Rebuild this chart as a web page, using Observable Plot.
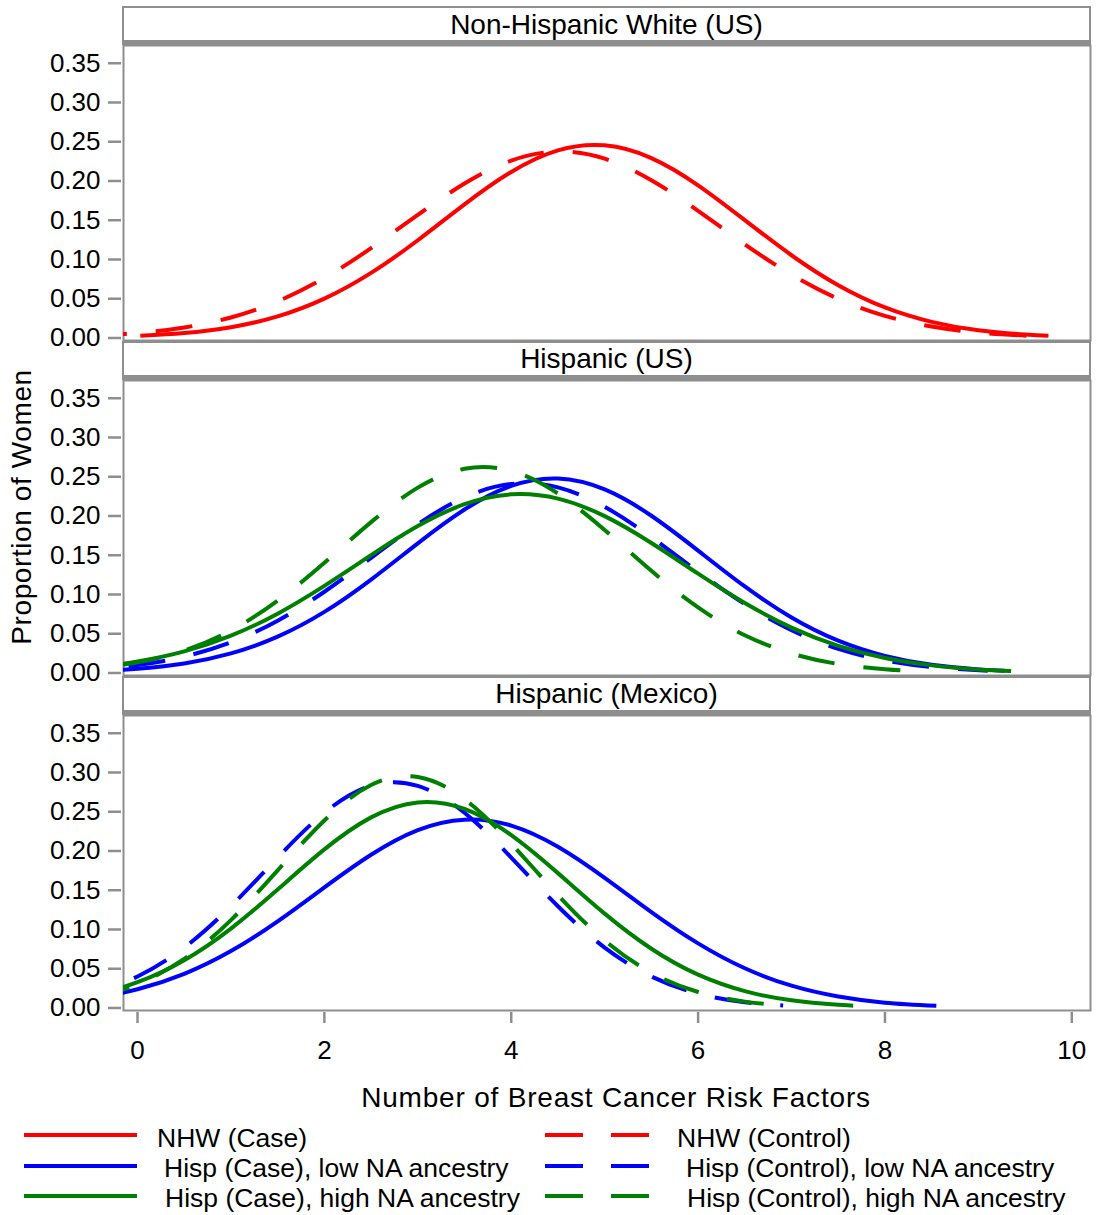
<!DOCTYPE html>
<html><head><meta charset="utf-8">
<script src="https://cdn.jsdelivr.net/npm/d3@7"></script>
<script src="https://cdn.jsdelivr.net/npm/@observablehq/plot@0.6"></script>
<style>html,body{margin:0;padding:0;background:#fff;} svg{display:block;}</style>
</head><body><div id="chart"></div>
<script>
// ---------- data ----------
const panels = ["Non-Hispanic White (US)", "Hispanic (US)", "Hispanic (Mexico)"];
const seriesNames = [
  "NHW (Case)", "NHW (Control)",
  "Hisp (Case), low NA ancestry", "Hisp (Control), low NA ancestry",
  "Hisp (Case), high NA ancestry", "Hisp (Control), high NA ancestry"
];
const xTicks = [0, 2, 4, 6, 8, 10];
const yTicks = [0, 0.05, 0.10, 0.15, 0.20, 0.25, 0.30, 0.35];

// Panel 1: Non-Hispanic White (US)
const nhwCaseX = [0.03, 0.5, 1, 1.5, 2, 2.5, 3, 3.5, 4, 4.5, 5, 5.5, 6, 6.5, 7, 7.5, 8, 8.5, 9, 9.5, 9.75];
const nhwCaseY = [0.0027, 0.0063, 0.0138, 0.0275, 0.0501, 0.0829, 0.1245, 0.1702, 0.2115, 0.2390, 0.2454, 0.2292, 0.1945, 0.1501, 0.1054, 0.0672, 0.0389, 0.0205, 0.0098, 0.0043, 0.0027];
const nhwCtrlX = [-0.51, 0, 0.5, 1, 1.5, 2, 2.5, 3, 3.5, 4, 4.5, 5, 5.5, 6, 6.5, 7, 7.5, 8, 8.5, 9, 9.57];
const nhwCtrlY = [0.0026, 0.0063, 0.0134, 0.0261, 0.0467, 0.0764, 0.1145, 0.1568, 0.1968, 0.2260, 0.2375, 0.2284, 0.2010, 0.1620, 0.1194, 0.0806, 0.0498, 0.0281, 0.0146, 0.0069, 0.0026];

// Panel 2: Hispanic (US)
const usCaseLowX = [-0.38, 0, 0.5, 1, 1.5, 2, 2.5, 3, 3.5, 4, 4.5, 5, 5.5, 6, 6.5, 7, 7.5, 8, 8.5, 9, 9.28];
const usCaseLowY = [0.0028, 0.0054, 0.0122, 0.0250, 0.0463, 0.0778, 0.1190, 0.1652, 0.2082, 0.2383, 0.2477, 0.2338, 0.2003, 0.1559, 0.1102, 0.0707, 0.0412, 0.0218, 0.0105, 0.0046, 0.0028];
const usCtrlLowX = [-0.8, -0.5, 0, 0.5, 1, 1.5, 2, 2.5, 3, 3.5, 4, 4.5, 5, 5.5, 6, 6.5, 7, 7.5, 8, 8.5, 9.1];
const usCtrlLowY = [0.0027, 0.0046, 0.0102, 0.0209, 0.0391, 0.0666, 0.1035, 0.1467, 0.1896, 0.2237, 0.2408, 0.2364, 0.2117, 0.1730, 0.1290, 0.0877, 0.0544, 0.0308, 0.0159, 0.0075, 0.0027];
const usCaseHighX = [-1.15, -0.5, 0, 0.5, 1, 1.5, 2, 2.5, 3, 3.5, 4, 4.5, 5, 5.5, 6, 6.5, 7, 7.5, 8, 8.5, 9, 9.35];
const usCaseHighY = [0.0025, 0.0072, 0.0146, 0.0275, 0.0475, 0.0756, 0.1110, 0.1501, 0.1871, 0.2150, 0.2276, 0.2221, 0.1998, 0.1656, 0.1265, 0.0891, 0.0578, 0.0345, 0.0190, 0.0097, 0.0045, 0.0025];
const usCtrlHighX = [-0.86, -0.5, 0, 0.5, 1, 1.5, 2, 2.5, 3, 3.5, 4, 4.5, 5, 5.5, 6, 6.5, 7, 7.5, 8, 8.26];
const usCtrlHighY = [0.0029, 0.0058, 0.0136, 0.0286, 0.0542, 0.0921, 0.1405, 0.1922, 0.2361, 0.2602, 0.2574, 0.2286, 0.1821, 0.1302, 0.0836, 0.0481, 0.0249, 0.0115, 0.0048, 0.0029];

// Panel 3: Hispanic (Mexico)
const mxCaseLowX = [-1.41, -1, -0.5, 0, 0.5, 1, 1.5, 2, 2.5, 3, 3.5, 4, 4.5, 5, 5.5, 6, 6.5, 7, 7.5, 8, 8.55];
const mxCaseLowY = [0.0027, 0.0054, 0.0119, 0.0238, 0.0435, 0.0725, 0.1104, 0.1536, 0.1952, 0.2266, 0.2399, 0.2324, 0.2054, 0.1658, 0.1222, 0.0823, 0.0506, 0.0284, 0.0146, 0.0068, 0.0027];
const mxCtrlLowX = [-1.41, -1, -0.5, 0, 0.5, 1, 1.5, 2, 2.5, 3, 3.5, 4, 4.5, 5, 5.5, 6, 6.5, 6.91];
const mxCtrlLowY = [0.0032, 0.0074, 0.0183, 0.0401, 0.0769, 0.1296, 0.1916, 0.2487, 0.2833, 0.2830, 0.2487, 0.1916, 0.1296, 0.0769, 0.0401, 0.0183, 0.0074, 0.0032];
const mxCaseHighX = [-1.46, -1, -0.5, 0, 0.5, 1, 1.5, 2, 2.5, 3, 3.5, 4, 4.5, 5, 5.5, 6, 6.5, 7, 7.5, 7.66];
const mxCaseHighY = [0.0029, 0.0069, 0.0159, 0.0328, 0.0608, 0.1011, 0.1509, 0.2020, 0.2428, 0.2619, 0.2536, 0.2203, 0.1718, 0.1202, 0.0755, 0.0425, 0.0215, 0.0098, 0.0040, 0.0029];
const mxCtrlHighX = [-1.17, -1, -0.5, 0, 0.5, 1, 1.5, 2, 2.5, 3, 3.5, 4, 4.5, 5, 5.5, 6, 6.5, 6.93];
const mxCtrlHighY = [0.0033, 0.0048, 0.0129, 0.0304, 0.0625, 0.1120, 0.1753, 0.2389, 0.2840, 0.2943, 0.2660, 0.2095, 0.1438, 0.0861, 0.0449, 0.0204, 0.0081, 0.0033];

// ---------- assembly ----------
const curves = [
  [panels[0], seriesNames[0], nhwCaseX, nhwCaseY],
  [panels[0], seriesNames[1], nhwCtrlX, nhwCtrlY],
  [panels[1], seriesNames[2], usCaseLowX, usCaseLowY],
  [panels[1], seriesNames[3], usCtrlLowX, usCtrlLowY],
  [panels[1], seriesNames[4], usCaseHighX, usCaseHighY],
  [panels[1], seriesNames[5], usCtrlHighX, usCtrlHighY],
  [panels[2], seriesNames[2], mxCaseLowX, mxCaseLowY],
  [panels[2], seriesNames[3], mxCtrlLowX, mxCtrlLowY],
  [panels[2], seriesNames[4], mxCaseHighX, mxCaseHighY],
  [panels[2], seriesNames[5], mxCtrlHighX, mxCtrlHighY]
];

const RED = "#ff0000", BLUE = "#0000ff", GREEN = "#008000", GRAY = "#8e8e8e";
const DASH = "37,29";
const seriesStyle = {
  [seriesNames[0]]: {stroke: RED, dash: null},
  [seriesNames[1]]: {stroke: RED, dash: DASH},
  [seriesNames[2]]: {stroke: BLUE, dash: null},
  [seriesNames[3]]: {stroke: BLUE, dash: DASH},
  [seriesNames[4]]: {stroke: GREEN, dash: null},
  [seriesNames[5]]: {stroke: GREEN, dash: DASH}
};
const FONT = "'Liberation Sans', Arial, sans-serif";

const lineMarks = curves.map(([panel, series, xs, ys]) => {
  const data = d3.zip(xs, ys).map(([x, y]) => ({x, y, panel, series}));
  const st = seriesStyle[series];
  return Plot.line(data, {
    x: "x", y: "y", fy: "panel",
    stroke: st.stroke, strokeWidth: 4,
    strokeDasharray: st.dash ?? undefined,
    strokeLinecap: "butt",
    curve: "natural", clip: true
  });
});

const W = 1098, H = 1215, ML = 123, MR = 8, MT = 45, MB = 205;

const chart = Plot.plot({
  width: W, height: H,
  marginLeft: ML, marginRight: MR, marginTop: MT, marginBottom: MB,
  style: {fontFamily: FONT, fontSize: "26px", background: "#fff", color: "#000"},
  x: {domain: [-0.15, 10.2]},
  y: {domain: [-0.0032, 0.3726]},
  fy: {domain: panels, paddingInner: 0.1194, paddingOuter: 0, axis: null, round: false},
  marks: [
    Plot.frame({stroke: GRAY, strokeWidth: 2}),
    Plot.axisY({ticks: yTicks, tickFormat: d3.format(".2f"), tickSize: 13, tickPadding: 8, dx: -2,
      stroke: GRAY, strokeWidth: 2.5, fill: "#000", fontSize: 26, label: null}),
    Plot.axisX({ticks: xTicks, tickFormat: d3.format("d"), tickSize: 11, tickPadding: 17, dy: 2,
      stroke: GRAY, strokeWidth: 2.5, fill: "#000", fontSize: 26, label: null}),
    ...lineMarks
  ]
});

document.getElementById("chart").appendChild(chart);

// ---------- strips, titles, legend ----------
const svg = d3.select(chart);
let fyApply;
try { const s = chart.scale("fy"); fyApply = s && s.apply ? s.apply : null; } catch (e) { fyApply = null; }
const step = (H - MT - MB) / (3 - 0.1194);
const panelTop = (p, i) => fyApply ? fyApply(p) : MT + i * step;
const xL = ML, xR = W - MR;

const stripG = svg.append("g");
panels.forEach((p, i) => {
  const top = panelTop(p, i);
  stripG.append("rect").attr("x", xL).attr("y", top - 38).attr("width", xR - xL).attr("height", 37)
    .attr("fill", "#fff").attr("stroke", GRAY).attr("stroke-width", 2);
  stripG.append("rect").attr("x", xL - 1).attr("y", top - 5).attr("width", xR - xL + 2).attr("height", 4)
    .attr("fill", GRAY);
  stripG.append("text").attr("x", (xL + xR) / 2).attr("y", top - 11.5)
    .attr("text-anchor", "middle").attr("font-family", FONT).attr("font-size", 28).attr("fill", "#000")
    .text(p);
});

// axis titles
svg.append("text").attr("x", 616).attr("y", 1107).attr("text-anchor", "middle")
  .attr("font-family", FONT).attr("font-size", 28).attr("letter-spacing", "0.8px").attr("fill", "#000")
  .text("Number of Breast Cancer Risk Factors");
svg.append("text").attr("transform", "translate(31,507) rotate(-90)").attr("text-anchor", "middle")
  .attr("font-family", FONT).attr("font-size", 28).attr("letter-spacing", "0.6px").attr("fill", "#000")
  .text("Proportion of Women");

// legend
const legendRows = [1135, 1166, 1196];
const legendBase = [1147, 1177, 1207];
const leftTextX = [157, 164, 165];
const rightTextX = [677, 686, 687];
const legG = svg.append("g").attr("text-anchor", "start");
[0, 1, 2].forEach(r => {
  const solid = seriesNames[r * 2], dashed = seriesNames[r * 2 + 1];
  legG.append("line").attr("x1", 24).attr("x2", 137).attr("y1", legendRows[r]).attr("y2", legendRows[r])
    .attr("stroke", seriesStyle[solid].stroke).attr("stroke-width", 4);
  legG.append("text").attr("x", leftTextX[r]).attr("y", legendBase[r]).attr("text-anchor", "start")
    .attr("font-family", FONT).attr("font-size", 26.5).attr("fill", "#000").text(solid);
  legG.append("line").attr("x1", 545).attr("x2", 649).attr("y1", legendRows[r]).attr("y2", legendRows[r])
    .attr("stroke", seriesStyle[dashed].stroke).attr("stroke-width", 4)
    .attr("stroke-dasharray", "38,28");
  legG.append("text").attr("x", rightTextX[r]).attr("y", legendBase[r]).attr("text-anchor", "start")
    .attr("font-family", FONT).attr("font-size", 26.5).attr("fill", "#000").text(dashed);
});
</script>
</body></html>
